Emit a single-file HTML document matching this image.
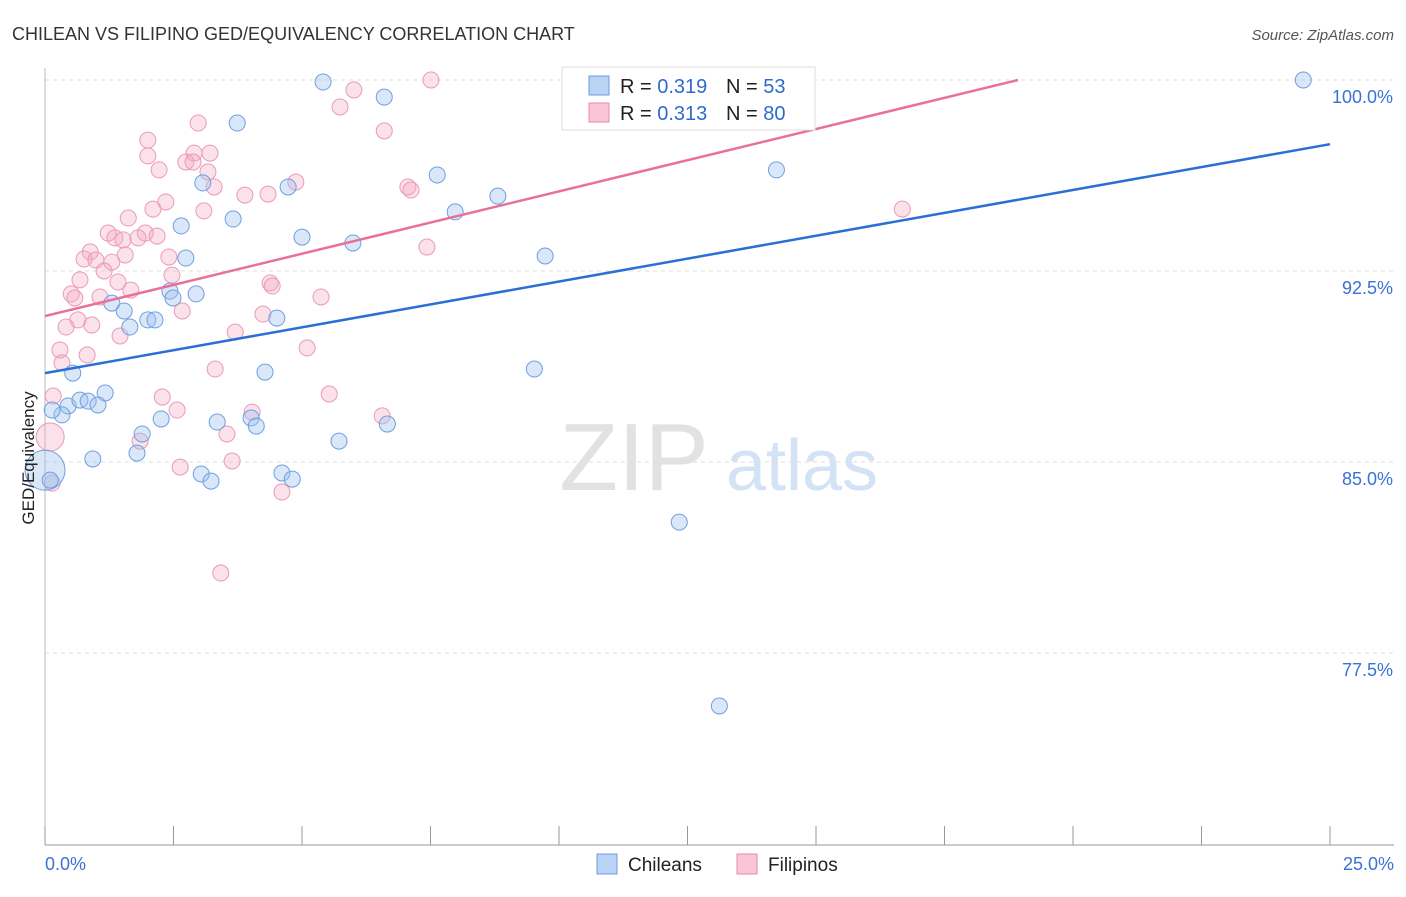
<!DOCTYPE html>
<html><head><meta charset="utf-8"><style>
body{margin:0;background:#fff;font-family:"Liberation Sans",sans-serif;}
svg text{font-family:"Liberation Sans",sans-serif;}
</style></head><body>
<svg id="chart" width="1406" height="892">
<text x="12" y="40" font-size="18" fill="#333">CHILEAN VS FILIPINO GED/EQUIVALENCY CORRELATION CHART</text>
<text x="1394" y="40" font-size="15" fill="#555" text-anchor="end" font-style="italic">Source: ZipAtlas.com</text>
<g><text x="634" y="490" font-size="96" fill="#e2e2e2" text-anchor="middle" font-family="Liberation Serif">ZIP</text><text x="802" y="490" font-size="72" fill="#d3e2f4" text-anchor="middle">atlas</text></g>
<g id="grid"></g><g id="axes"></g><g id="pts"></g><g id="lines"></g>
<text transform="translate(34,458) rotate(-90)" font-size="17" fill="#222" text-anchor="middle">GED/Equivalency</text>
<g>
<rect x="562" y="67" width="253" height="63" fill="#fff" stroke="#ddd"/>
<rect x="589" y="76" width="20" height="19" fill="#b9d3f5" stroke="#6a9be0"/>
<text x="620" y="93" font-size="20" fill="#222">R = <tspan fill="#2e6bd0">0.319</tspan></text>
<text x="726" y="93" font-size="20" fill="#222">N = <tspan fill="#2e6bd0">53</tspan></text>
<rect x="589" y="103" width="20" height="19" fill="#f9c6d5" stroke="#e88aa8"/>
<text x="620" y="120" font-size="20" fill="#222">R = <tspan fill="#2e6bd0">0.313</tspan></text>
<text x="726" y="120" font-size="20" fill="#222">N = <tspan fill="#2e6bd0">80</tspan></text>
</g>
<g>
<rect x="597" y="854" width="20" height="20" fill="#b9d3f5" stroke="#6a9be0"/>
<text x="628" y="871" font-size="19" fill="#222">Chileans</text>
<rect x="737" y="854" width="20" height="20" fill="#f9c6d5" stroke="#e88aa8"/>
<text x="768" y="871" font-size="19" fill="#222">Filipinos</text>
</g>
</svg>
<script>
const blueX=[5.41,6.60,3.74,3.07,4.73,7.63,8.81,7.98,3.66,2.65,5.00,5.99,2.74,9.73,2.43,2.94,2.49,1.30,1.54,4.51,2.00,2.14,1.65,4.28,9.52,0.54,1.17,0.45,0.68,0.84,1.03,0.33,0.14,2.26,3.35,4.01,4.11,6.66,1.89,5.72,1.79,0.93,3.04,3.23,4.61,4.81,12.34,14.23,24.48,13.12,0.0,0.1];
const blueY=[99.92,99.33,98.31,95.96,95.80,96.27,95.44,94.82,94.54,94.27,93.83,93.60,93.01,93.09,91.71,91.60,91.44,91.24,90.93,90.65,90.58,90.58,90.30,88.53,88.65,88.49,87.71,87.20,87.43,87.39,87.24,86.85,87.04,86.69,86.57,86.73,86.41,86.49,86.10,85.82,85.35,85.12,84.53,84.25,84.57,84.33,82.64,96.47,100.0,75.42,84.68,84.29];
const blueBig=[0,0,0,0,0,0,0,0,0,0,0,0,0,0,0,0,0,0,0,0,0,0,0,0,0,0,0,0,0,0,0,0,0,0,0,0,0,0,0,0,0,0,0,0,0,0,0,0,0,0,1,0];
const pinkX=[7.51,11.77,6.01,5.74,2.98,6.60,2.00,2.90,3.21,2.00,2.74,2.88,2.22,3.17,3.29,4.88,7.06,7.12,4.34,3.89,2.35,2.10,3.09,1.62,16.68,1.23,1.95,2.18,1.36,1.52,1.81,7.43,0.88,2.41,0.76,0.99,1.56,1.30,1.15,2.47,0.68,1.42,4.38,4.42,1.67,0.51,0.58,1.07,5.37,2.67,4.24,0.64,0.41,0.91,1.46,3.70,0.29,5.10,0.82,0.33,3.31,0.16,2.28,5.53,2.57,4.03,6.56,3.54,1.85,0.10,3.64,2.63,0.14,4.61,3.42];
const pinkY=[100.0,100.0,99.61,98.94,98.31,98.00,97.64,97.13,97.13,97.02,96.78,96.78,96.47,96.39,95.80,95.99,95.80,95.68,95.52,95.48,95.21,94.93,94.86,94.58,94.93,93.99,93.99,93.87,93.80,93.72,93.80,93.44,93.25,93.05,92.97,92.93,93.13,92.85,92.50,92.34,92.15,92.07,92.03,91.91,91.75,91.60,91.44,91.48,91.48,90.93,90.81,90.58,90.30,90.38,89.95,90.10,89.40,89.48,89.20,88.89,88.65,87.59,87.55,87.67,87.04,86.96,86.81,86.10,85.82,85.98,85.04,84.80,84.17,83.82,80.64];
const pinkBig=pinkX.map((v,i)=>i===69?1:0);
const yTicks=[100,92.5,85,77.5];
const yTickLabels=["100.0%","92.5%","85.0%","77.5%"];
const xTickVals=[0,2.5,5,7.5,10,12.5,15,17.5,20,22.5,25];
const blueLine=[[0,88.49],[25,97.48]];
const pinkLine=[[0,90.73],[18.93,100]];
const sx=v=>45+v/25*1285, sy=v=>80+(100-v)/7.5*191;
const NS="http://www.w3.org/2000/svg";
function mk(tag,attrs,parent){const e=document.createElementNS(NS,tag);for(const k in attrs)e.setAttribute(k,attrs[k]);document.getElementById(parent).appendChild(e);return e;}
yTicks.forEach((t,i)=>{
 const g=mk('line',{x1:45,x2:1394,y1:sy(t),y2:sy(t),stroke:'#ddd','stroke-dasharray':'4,4'},'grid');
 
 
 const tx=mk('text',{x:1393,y:sy(t)+23,'font-size':18,fill:'#3a72d4','text-anchor':'end'},'grid');tx.textContent=yTickLabels[i];
 
 
});
const ax=mk('line',{x1:45,x2:1394,y1:845,y2:845,stroke:'#999'},'axes');


const ay=mk('line',{x1:45,x2:45,y1:68,y2:845,stroke:'#bbb'},'axes');


xTickVals.forEach(v=>{const t=mk('line',{x1:sx(v),x2:sx(v),y1:826,y2:845,stroke:'#999'},'axes');
 
 });
const l0=mk('text',{x:45,y:870,'font-size':18,fill:'#3a72d4'},'axes');l0.textContent='0.0%';


const l1=mk('text',{x:1394,y:870,'font-size':18,fill:'#3a72d4','text-anchor':'end'},'axes');l1.textContent='25.0%';


pinkX.forEach((x,i)=>{const c=mk('circle',{cx:sx(x),cy:sy(pinkY[i]),r:pinkBig[i]?14:8,fill:'rgba(244,170,195,0.35)',stroke:'#eb9ab5','stroke-width':1},'pts');
 
 });
blueX.forEach((x,i)=>{const c=mk('circle',{cx:sx(x),cy:sy(blueY[i]),r:blueBig[i]?20:8,fill:'rgba(160,195,240,0.4)',stroke:'#6f9fe0','stroke-width':1},'pts');
 
 });
const bl=mk('line',{x1:sx(blueLine[0][0]),y1:sy(blueLine[0][1]),x2:sx(blueLine[1][0]),y2:sy(blueLine[1][1]),stroke:'#2a6fd6','stroke-width':2.5},'lines');


const pl=mk('line',{x1:sx(pinkLine[0][0]),y1:sy(pinkLine[0][1]),x2:sx(pinkLine[1][0]),y2:sy(pinkLine[1][1]),stroke:'#e8709a','stroke-width':2.5},'lines');


</script>
</body></html>
